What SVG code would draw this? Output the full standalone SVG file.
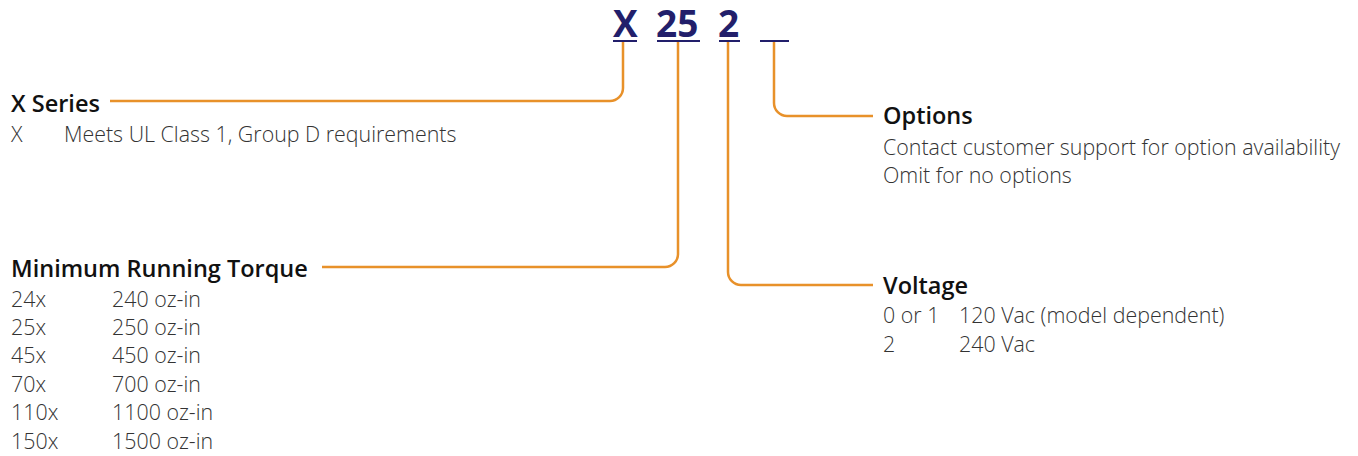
<svg xmlns="http://www.w3.org/2000/svg" width="1358" height="456" viewBox="0 0 1358 456">
<style>
.code{font-family:"Open Sans",sans-serif;font-weight:700;font-size:37px;fill:#221f6b}
.ul{stroke:#221f6b;stroke-width:2;fill:none}
.h{font-family:"Open Sans",sans-serif;font-weight:600;font-size:23.5px;fill:#111}
.b{font-family:"Open Sans",sans-serif;font-weight:300;font-size:21.4px;fill:#333}
.c{stroke:#e8912a;stroke-width:2.5;fill:none}
</style>
<rect width="1358" height="456" fill="#fff"/>
<g id="code">
<text class="code" x="613" y="37">X</text>
<text class="code" x="656" y="37">25</text>
<text class="code" x="718" y="37">2</text>
<line class="ul" x1="613" y1="41" x2="637" y2="41"/>
<line class="ul" x1="657" y1="41" x2="700" y2="41"/>
<line class="ul" x1="719" y1="41" x2="740" y2="41"/>
<line class="ul" x1="760" y1="41" x2="789" y2="41"/>
</g>
<g id="connectors">
<path class="c" d="M623 42 V88 A13 13 0 0 1 610 101 H110"/>
<path class="c" d="M678 42 V254 A13 13 0 0 1 665 267 H322"/>
<path class="c" d="M728 42 V272 A13 13 0 0 0 741 285 H873"/>
<path class="c" d="M774 42 V103 A13 13 0 0 0 787 116 H873"/>
</g>
<g id="x-series">
<text class="h" x="11" y="112">X Series</text>
<text class="b" x="11" y="142">X</text>
<text class="b" x="64" y="142">Meets UL Class 1, Group D requirements</text>
</g>
<g id="torque">
<text class="h" x="11" y="277">Minimum Running Torque</text>
<text class="b" x="11" y="307">24x</text><text class="b" x="112" y="307">240 oz-in</text>
<text class="b" x="11" y="335">25x</text><text class="b" x="112" y="335">250 oz-in</text>
<text class="b" x="11" y="363">45x</text><text class="b" x="112" y="363">450 oz-in</text>
<text class="b" x="11" y="392">70x</text><text class="b" x="112" y="392">700 oz-in</text>
<text class="b" x="11" y="420">110x</text><text class="b" x="112" y="420">1100 oz-in</text>
<text class="b" x="11" y="449">150x</text><text class="b" x="112" y="449">1500 oz-in</text>
</g>
<g id="options">
<text class="h" x="883" y="124">Options</text>
<text class="b" x="883" y="155">Contact customer support for option availability</text>
<text class="b" x="883" y="183">Omit for no options</text>
</g>
<g id="voltage">
<text class="h" x="883" y="294">Voltage</text>
<text class="b" x="883" y="323">0 or 1</text><text class="b" x="959" y="323">120 Vac (model dependent)</text>
<text class="b" x="883" y="352">2</text><text class="b" x="959" y="352">240 Vac</text>
</g>
</svg>
